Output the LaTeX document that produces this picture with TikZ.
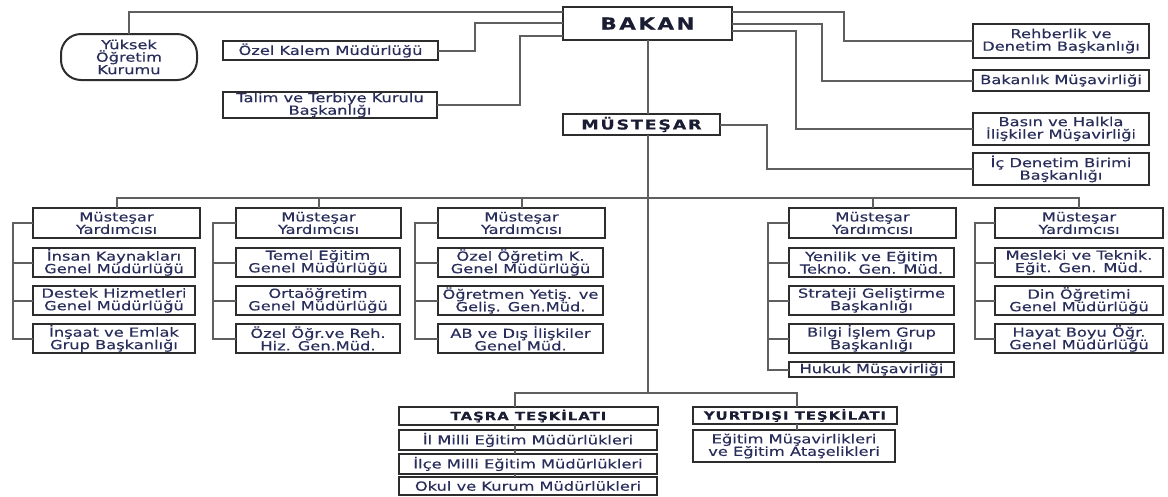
\documentclass[tikz,border=0pt]{standalone}
\usepackage{fontspec}
\setmainfont{DejaVu Sans}[FakeStretch=1.3,FakeBold=0.3]
\definecolor{textc}{RGB}{40,45,90}
\definecolor{titlec}{RGB}{25,28,50}
\definecolor{boxc}{RGB}{45,45,45}
\definecolor{linec}{RGB}{95,95,95}
\tikzset{
  box/.style={draw=boxc,line width=2pt,fill=white,inner sep=0pt,outer sep=0pt,align=center,text=textc,font=\fontsize{12.5}{12.5}\selectfont},
  ttl/.style={text=titlec,font=\fontsize{11.5}{12}\selectfont\bfseries\addfontfeature{LetterSpace=8}},
  conn/.style={draw=linec,line width=2pt}
}
\newcommand\bx[7][]{\node[box,minimum width={(#5-#3)*1pt},minimum height={(#6-#4)*1pt},#1] (#2) at ({(#3+#5)/2},{(#4+#6)/2}) {#7};}
\begin{document}
\begin{tikzpicture}[x=1pt,y=-1pt]
\useasboundingbox[fill=white] (0,0) rectangle (1168,496);
% top level
\bx[ttl,font=\fontsize{16.5}{17}\selectfont\bfseries\addfontfeature{LetterSpace=15}]{bakan}{563}{7}{732}{40}{BAKAN}
\bx[rounded corners=20pt]{yok}{61}{34}{197}{80}{Yüksek\\Öğretim\\Kurumu}
\bx{ozel}{223}{41}{438}{60}{Özel Kalem Müdürlüğü}
\bx{talim}{223}{92}{437}{118}{Talim ve Terbiye Kurulu\\Başkanlığı}
\bx[ttl,font=\fontsize{13.5}{14}\selectfont\bfseries\addfontfeature{LetterSpace=13}]{must}{563}{114}{720}{135}{MÜSTEŞAR}
\bx{rehb}{973}{24}{1149}{58}{Rehberlik ve\\Denetim Başkanlığı}
\bx{bakm}{973}{70}{1149}{91}{Bakanlık Müşavirliği}
\bx{basin}{973}{113}{1149}{145}{Basın ve Halkla\\İlişkiler Müşavirliği}
\bx{icden}{973}{153}{1149}{185}{İç Denetim Birimi\\Başkanlığı}
% column 1
\bx{ya}{33}{208}{200}{238}{Müsteşar\\Yardımcısı}
\bx{a1}{33}{248}{195}{277}{İnsan Kaynakları\\Genel Müdürlüğü}
\bx{a2}{33}{286}{195}{315}{Destek Hizmetleri\\Genel Müdürlüğü}
\bx{a3}{33}{324}{195}{353}{İnşaat ve Emlak\\Grup Başkanlığı}
% column 2
\bx{yb}{236}{208}{401}{238}{Müsteşar\\Yardımcısı}
\bx{b1}{236}{248}{400}{277}{Temel Eğitim\\Genel Müdürlüğü}
\bx{b2}{236}{286}{400}{315}{Ortaöğretim\\Genel Müdürlüğü}
\bx{b3}{236}{324}{400}{353}{Özel Öğr.ve Reh.\\Hiz. Gen.Müd.}
% column 3
\bx{yc}{438}{208}{605}{238}{Müsteşar\\Yardımcısı}
\bx{c1}{438}{248}{603}{277}{Özel Öğretim K.\\Genel Müdürlüğü}
\bx{c2}{438}{286}{603}{315}{Öğretmen Yetiş. ve\\Geliş. Gen.Müd.}
\bx{c3}{438}{324}{603}{353}{AB ve Dış İlişkiler\\Genel Müd.}
% column 4
\bx{yd}{789}{208}{956}{238}{Müsteşar\\Yardımcısı}
\bx{d1}{789}{248}{954}{277}{Yenilik ve Eğitim\\Tekno. Gen. Müd.}
\bx{d2}{789}{286}{954}{315}{Strateji Geliştirme\\Başkanlığı}
\bx{d3}{789}{324}{954}{353}{Bilgi İşlem Grup\\Başkanlığı}
\bx{d4}{789}{362}{954}{377}{Hukuk Müşavirliği}
% column 5
\bx{ye}{995}{208}{1163}{238}{Müsteşar\\Yardımcısı}
\bx{e1}{995}{248}{1163}{277}{Mesleki ve Teknik.\\Eğit. Gen. Müd.}
\bx{e2}{995}{286}{1163}{315}{Din Öğretimi\\Genel Müdürlüğü}
\bx{e3}{995}{324}{1163}{353}{Hayat Boyu Öğr.\\Genel Müdürlüğü}
% bottom
\bx[ttl]{tasra}{399}{407}{658}{425}{TAŞRA TEŞKİLATI}
\bx{il}{399}{430}{657}{450}{İl Milli Eğitim Müdürlükleri}
\bx{ilce}{399}{454}{657}{474}{İlçe Milli Eğitim Müdürlükleri}
\bx{okul}{399}{477}{657}{495}{Okul ve Kurum Müdürlükleri}
\bx[ttl]{yurt}{693}{407}{897}{424}{YURTDIŞI TEŞKİLATI}
\bx{egit}{693}{430}{895}{462}{Eğitim Müşavirlikleri\\ve Eğitim Ataşelikleri}
% connectors: top level
\draw[conn] (yok.north) |- ([yshift=11.5pt]bakan.west);
\draw[conn] (ozel.east) -| (475,30) |- ([yshift=0.5pt]bakan.west);
\draw[conn] (talim.east) -| (520,60) |- ([yshift=-12.5pt]bakan.west);
\draw[conn] ([yshift=11.5pt]bakan.east) -| (844,30) |- (rehb.west);
\draw[conn] ([yshift=-0.5pt]bakan.east) -| (822,50) |- (bakm.west);
\draw[conn] ([yshift=-7.5pt]bakan.east) -| (796,80) |- (basin.west);
\draw[conn] (bakan.south) -- (bakan.south |- must.north);
\draw[conn] (must.east) -| (767,150) |- (icden.west);
% trunk
\coordinate (bar) at (648,198);
\coordinate (tbar) at (648,393);
\draw[conn] (bakan.south |- must.south) -- (bakan.south |- tbar);
\draw[conn] (ya.north) -- (ya.north |- bar) -- (ye.north |- bar) -- (ye.north);
\foreach \n in {yb,yc,yd} \draw[conn] (\n.north) -- (\n.north |- bar);
% brackets
\draw[conn] (ya.west) -- ++(-20,0) |- (a3.west);
\foreach \n in {a1,a2} \draw[conn] (\n.west) -- ++(-20,0);
\draw[conn] (yb.west) -- ++(-23,0) |- (b3.west);
\foreach \n in {b1,b2} \draw[conn] (\n.west) -- ++(-23,0);
\draw[conn] (yc.west) -- ++(-23,0) |- (c3.west);
\foreach \n in {c1,c2} \draw[conn] (\n.west) -- ++(-23,0);
\draw[conn] (yd.west) -- ++(-21,0) |- (d4.west);
\foreach \n in {d1,d2,d3} \draw[conn] (\n.west) -- ++(-21,0);
\draw[conn] (ye.west) -- ++(-20,0) |- (e3.west);
\foreach \n in {e1,e2} \draw[conn] (\n.west) -- ++(-20,0);
% bottom
\coordinate (tx) at (515,393);
\coordinate (yx) at (797,393);
\draw[conn] (tasra.north -| tx) -- (tx) -- (yx) -- (yurt.north -| yx);
\draw[conn] (tasra.south -| tx) -- (il.north -| tx);
\draw[conn] (il.south -| tx) -- (ilce.north -| tx);
\draw[conn] (ilce.south -| tx) -- (okul.north -| tx);
\draw[conn] (yurt.south -| yx) -- (egit.north -| yx);
\end{tikzpicture}
\end{document}
